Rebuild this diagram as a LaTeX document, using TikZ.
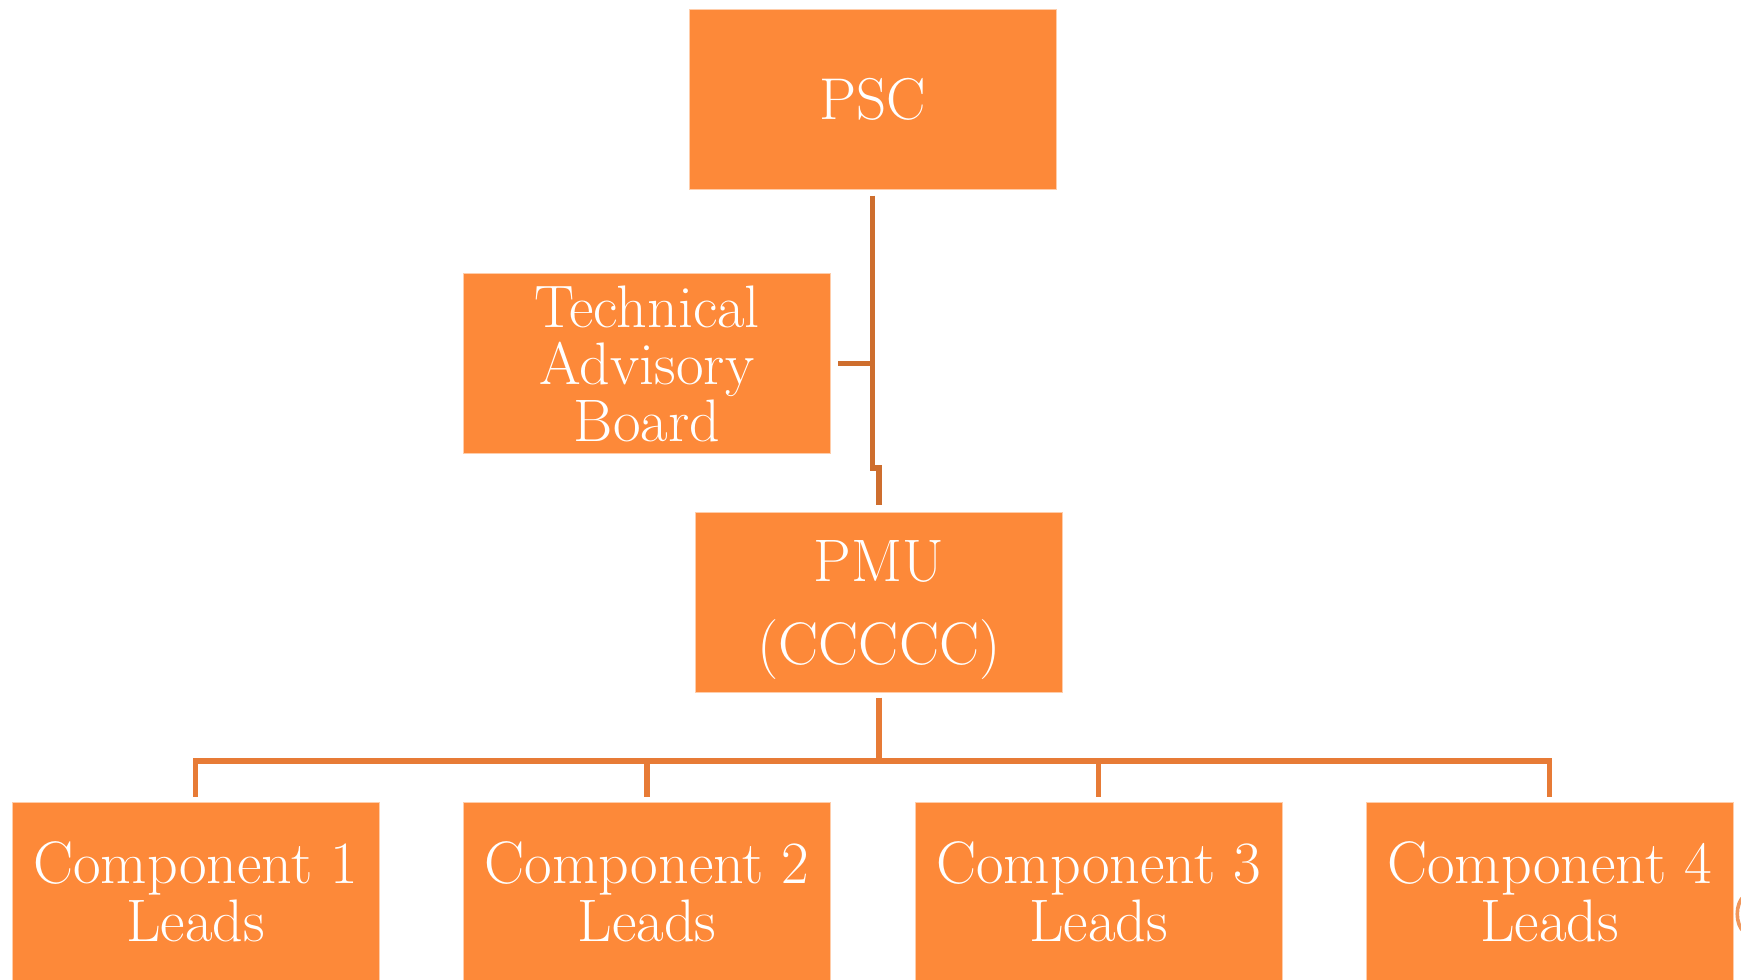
\documentclass[tikz,border=0pt]{standalone}
\usepackage{fontspec}
\definecolor{boxorange}{RGB}{253,137,57}
\definecolor{boxedge}{RGB}{255,205,170}
\definecolor{upline}{RGB}{206,110,46}
\definecolor{lowline}{RGB}{231,123,54}
\definecolor{edgearc}{RGB}{240,150,90}
\tikzset{
  orgbox/.style={rectangle, fill=boxorange, draw=boxedge, line width=0.5pt,
    minimum width=183.5pt, minimum height=90pt, inner sep=0pt,
    text=white, align=center},
  boxtext/.style={inner sep=0pt, text=white, align=center},
  upconn/.style={draw=upline, line width=2.8pt},
  lowconn/.style={draw=lowline, line width=2.7pt},
}
\begin{document}
\begin{tikzpicture}[x=0.5pt,y=-0.5pt]
\useasboundingbox (0,0) rectangle (1741,980);
\clip (0,0) rectangle (1741,980);
\node[orgbox, font=\fontsize{29.5}{28.5}\selectfont] (psc) at (872.5,99) {PSC};
\node[orgbox, font=\fontsize{30}{28.5}\selectfont] (tab) at (647,363.5) {Technical\\Advisory\\Board};
\node[orgbox] (pmu) at (879,602) {};
\node[boxtext, font=\fontsize{30}{41.5}\selectfont] (pmutext) at ([yshift=-4pt]pmu.center) {PMU\\(CCCCC)};
\node[orgbox, font=\fontsize{30}{29}\selectfont] (c1) at (195.5,892) {Component 1\\Leads};
\node[orgbox, font=\fontsize{30}{29}\selectfont] (c2) at (647,892) {Component 2\\Leads};
\node[orgbox, font=\fontsize{30}{29}\selectfont] (c3) at (1098.5,892) {Component 3\\Leads};
\node[orgbox, font=\fontsize{30}{29}\selectfont] (c4) at (1549.5,892) {Component 4\\Leads};
\coordinate (jog) at (0,468);
\coordinate (bus) at (0,761);
% PSC to PMU with jog
\draw[upconn] ([yshift=-3pt]psc.south) -- (psc.south |- jog) -- (pmu.north |- jog) -- ([yshift=3.5pt]pmu.north);
% Technical Advisory Board stub
\draw[upconn] ([xshift=3.5pt]tab.east) -- (tab.east -| psc.south);
% PMU to components
\draw[lowconn] ([yshift=-2.5pt]pmu.south) -- (pmu.south |- bus);
\draw[lowconn] ([yshift=2.5pt]c1.north) -- (c1.north |- bus) -- (c4.north |- bus) -- ([yshift=2.5pt]c4.north);
\draw[lowconn] (c2.north |- bus) -- ([yshift=2.5pt]c2.north);
\draw[lowconn] (c3.north |- bus) -- ([yshift=2.5pt]c3.north);
% partial shape at right edge
\draw[edgearc, line width=1.8pt] (1744,896) .. controls (1735,904) and (1735,924) .. (1744,932);
\end{tikzpicture}
\end{document}
